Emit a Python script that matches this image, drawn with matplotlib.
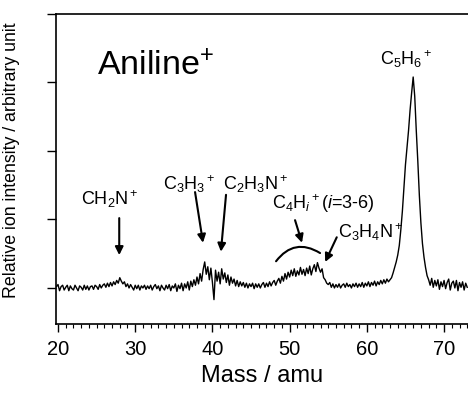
import numpy as np
import matplotlib
matplotlib.use("Agg")
import matplotlib.pyplot as plt
from matplotlib.ticker import MultipleLocator

plt.rcParams['font.family'] = ['Liberation Sans', 'DejaVu Sans']
plt.rcParams['mathtext.fontset'] = 'custom'
plt.rcParams['mathtext.rm'] = 'Liberation Sans'
plt.rcParams['mathtext.it'] = 'Liberation Sans:italic'
plt.rcParams['mathtext.bf'] = 'Liberation Sans:bold'

# Mass axis sampling (amu)
mass_start = 19.8
mass_step = 0.2

# Relative ion intensity, one row per amu (5 samples each)
int_20_29 = [
    0.02,
    0.05, -0.04, 0.02, 0.04, -0.03,
    0.01, 0.04, -0.04, 0.03, -0.01,
    -0.03, 0.04, 0.00, -0.04, 0.03,
    0.01, -0.03, 0.04, -0.02, 0.03,
    -0.03, 0.02, 0.03, -0.02, 0.04,
    0.02, -0.02, 0.05, 0.00, 0.04,
    0.06, 0.01, 0.07, 0.02, 0.08,
    0.03, 0.09, 0.05, 0.11, 0.07,
    0.15, 0.10, 0.06, 0.09, 0.02,
    0.06, 0.00, 0.05, 0.01, -0.03,
]
int_30_37 = [
    0.04, -0.01, 0.04, -0.03, 0.03,
    0.00, 0.04, -0.02, 0.03, -0.01,
    0.04, -0.03, 0.02, 0.05, -0.01,
    0.03, -0.04, 0.04, 0.00, -0.03,
    0.04, -0.01, 0.05, -0.04, 0.03,
    0.00, 0.06, -0.05, 0.04, -0.01,
    0.07, -0.04, 0.06, 0.00, 0.09,
    -0.03, 0.10, 0.02, 0.12, 0.04,
]
int_38_47 = [
    0.16, 0.06, 0.21, 0.10, 0.27,
    0.38, 0.20, 0.31, 0.12, 0.29,
    0.08, -0.17, 0.26, 0.10, 0.23,
    0.06, 0.28, 0.13, 0.22, 0.08,
    0.19, 0.04, 0.16, 0.07, 0.13,
    0.03, 0.11, 0.02, 0.09, 0.03,
    0.08, 0.01, 0.07, 0.00, 0.06,
    0.02, 0.07, -0.01, 0.06, 0.01,
    0.06, 0.00, 0.05, 0.08, 0.01,
    0.07, 0.02, 0.09, 0.03, 0.08,
]
int_48_62 = [
    0.11, 0.04, 0.10, 0.14, 0.07,
    0.17, 0.10, 0.21, 0.13, 0.23,
    0.16, 0.26, 0.18, 0.28, 0.17,
    0.25, 0.19, 0.30, 0.20, 0.27,
    0.18, 0.29, 0.21, 0.32, 0.19,
    0.28, 0.34, 0.24, 0.37, 0.29,
    0.23, 0.28, 0.15, 0.12, 0.07,
    0.05, 0.08, 0.01, 0.06, 0.00,
    0.05, 0.01, 0.06, 0.00, 0.04,
    0.06, 0.01, 0.07, 0.02, 0.05,
    0.00, 0.06, 0.02, 0.07, 0.01,
    0.06, 0.02, 0.08, 0.01, 0.07,
    0.03, 0.09, 0.02, 0.08, 0.04,
    0.10, 0.03, 0.09, 0.05, 0.11,
    0.06, 0.12, 0.07, 0.13, 0.09,
]
int_63_73 = [
    0.12, 0.15, 0.22, 0.30, 0.38,
    0.48, 0.62, 0.85, 1.12, 1.45,
    1.80, 2.05, 2.30, 2.60, 2.85,
    3.08, 2.80, 2.30, 1.85, 1.35,
    0.95, 0.65, 0.45, 0.30, 0.18,
    0.12, 0.04, 0.14, 0.01, 0.11,
    0.03, 0.12, -0.02, 0.09, 0.02,
    0.11, -0.01, 0.08, 0.13, -0.03,
    0.07, 0.10, 0.00, 0.11, -0.04,
    0.08, 0.01, 0.09, -0.03, 0.07,
    0.01,
]

intensity = np.array(int_20_29 + int_30_37 + int_38_47 + int_48_62 + int_63_73)
mass = mass_start + mass_step * np.arange(len(intensity))

x_ticks = [20, 30, 40, 50, 60, 70]
y_ticks = [0, 1, 2, 3, 4]

fig = plt.figure(figsize=(4.68, 3.93), dpi=100)
ax = fig.add_axes([56 / 468, 1 - 324 / 393, 1 - 56 / 468, (324 - 14) / 393])
ax.plot(mass, intensity, color='black', lw=1.0)

ax.set_xlim(19.74, 73.1)
ax.set_ylim(-0.526, 4.0)
ax.set_xticks(x_ticks)
ax.xaxis.set_minor_locator(MultipleLocator(1))
ax.set_yticks(y_ticks)
ax.set_yticklabels([])
ax.spines['right'].set_visible(False)
for s in ['left', 'bottom', 'top']:
    ax.spines[s].set_linewidth(1.2)
ax.tick_params(axis='x', which='major', direction='out', length=5.5, width=1, labelsize=14.5, pad=6)
ax.tick_params(axis='x', which='minor', direction='out', length=2.8, width=0.8)
ax.tick_params(axis='y', which='major', direction='out', length=6.5, width=1)
ax.set_xlabel('Mass / amu', fontsize=17, labelpad=4)
ax.set_ylabel('Relative ion intensity / arbitrary unit', fontsize=12.8)
ax.yaxis.set_label_coords(-0.087, 0.53)

ax.text(25.05, 3.11, 'Aniline$^{+}$', fontsize=24.5, ha='left', va='baseline')

fs = 13
ax.text(26.7, 1.21, 'CH$_2$N$^+$', fontsize=fs, ha='center', va='baseline')
ax.text(37.0, 1.43, 'C$_3$H$_3$$^+$', fontsize=fs, ha='center', va='baseline')
ax.text(45.6, 1.43, 'C$_2$H$_3$N$^+$', fontsize=fs, ha='center', va='baseline')
ax.text(47.7, 1.15, 'C$_4$H$_{i}$$^+$($i$=3-6)', fontsize=fs, ha='left', va='baseline')
ax.text(56.3, 0.73, 'C$_3$H$_4$N$^+$', fontsize=fs, ha='left', va='baseline')
ax.text(65.1, 3.26, 'C$_5$H$_6$$^+$', fontsize=fs, ha='center', va='baseline')

arrow = dict(arrowstyle='-|>', lw=1.5, color='black', mutation_scale=12,
             shrinkA=0, shrinkB=0)
ax.annotate('', xy=(27.93, 0.48), xytext=(27.93, 1.02), arrowprops=arrow)
ax.annotate('', xy=(38.78, 0.66), xytext=(37.75, 1.40), arrowprops=arrow)
ax.annotate('', xy=(41.1, 0.53), xytext=(41.76, 1.36), arrowprops=arrow)
ax.annotate('', xy=(51.6, 0.66), xytext=(50.7, 0.99), arrowprops=arrow)
ax.annotate('', xy=(54.6, 0.38), xytext=(56.1, 0.74), arrowprops=arrow)
ax.annotate('', xy=(53.94, 0.51), xytext=(48.24, 0.39),
            arrowprops=dict(arrowstyle='-', lw=1.5, color='black',
                            shrinkA=0, shrinkB=0,
                            connectionstyle='arc3,rad=-0.45'))

fig.savefig('out.png', dpi=100)
